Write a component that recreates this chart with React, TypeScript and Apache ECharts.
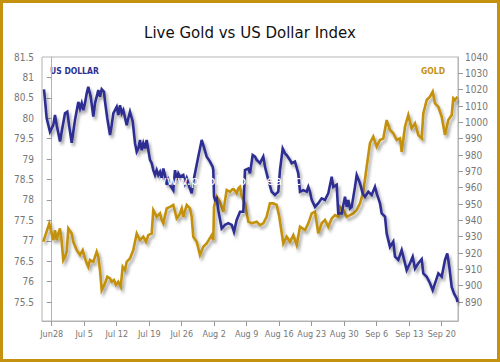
import React, { useEffect, useRef } from "react";
import * as echarts from "echarts";

// x values are days counted from Jun 28
const tickDays = [0, 7, 14, 21, 28, 35, 42, 49, 56, 63, 70, 77, 84];
const tickLabels = ["Jun28", "Jul 5", "Jul 12", "Jul 19", "Jul 26", "Aug 2", "Aug 9", "Aug 16", "Aug 23", "Aug 30", "Sep 6", "Sep 13", "Sep 20"];
const usdTicks = [75.5, 76, 76.5, 77, 77.5, 78, 78.5, 79, 79.5, 80, 80.5, 81, 81.5];
const goldTicks = [890, 900, 910, 920, 930, 940, 950, 960, 970, 980, 990, 1000, 1010, 1020, 1030, 1040];

const usdDays = [-1.66, -1.08, -0.37, 0.34, 0.71, 1.08, 1.79, 2.15, 2.86, 3.36, 3.79, 4.31, 5.02, 5.73, 6.1, 6.46, 6.8, 7.17, 7.54, 7.88, 8.4, 8.96, 9.33, 10.04, 10.4, 10.77, 11.26, 11.48, 11.97, 12.56, 12.92, 13.27, 13.63, 14.0, 14.34, 14.71, 15.08, 15.42, 16.15, 16.5, 16.86, 17.45, 17.94, 18.31, 18.65, 19.02, 19.38, 19.73, 20.09, 20.46, 20.81, 21.17, 21.54, 21.88, 22.25, 22.61, 22.96, 23.33, 23.69, 24.04, 24.4, 24.77, 25.11, 25.48, 26.19, 26.56, 26.92, 27.27, 27.63, 28.34, 28.71, 29.08, 29.64, 30.15, 30.5, 30.86, 31.57, 32.31, 32.65, 33.38, 34.09, 34.68, 34.8, 34.96, 35.17, 35.54, 35.88, 36.61, 37.33, 38.04, 38.77, 39.26, 39.84, 40.56, 41.27, 41.63, 42.34, 42.71, 43.29, 43.79, 44.15, 44.86, 45.57, 45.94, 46.65, 47.38, 48.09, 48.8, 49.17, 49.75, 50.25, 50.61, 51.32, 51.69, 52.4, 53.11, 53.48, 54.19, 54.92, 55.27, 55.63, 56.0, 56.71, 57.42, 58.15, 58.86, 59.57, 60.31, 60.65, 61.38, 61.72, 62.46, 62.8, 63.17, 63.54, 63.88, 64.25, 64.61, 65.32, 65.69, 66.4, 66.98, 67.48, 68.19, 68.92, 69.63, 70.0, 70.71, 71.07, 71.79, 72.15, 72.86, 73.57, 73.94, 74.65, 75.38, 75.73, 76.46, 77.17, 77.75, 78.25, 78.96, 79.69, 80.04, 80.77, 81.48, 82.06, 82.92, 83.27, 84.0, 84.71, 85.2, 85.64, 86.15, 86.65, 87.23, 87.4];
const usdValues = [80.71, 80.0, 79.67, 79.83, 80.08, 79.83, 79.43, 79.67, 80.12, 80.16, 79.79, 79.4, 79.96, 80.4, 80.24, 80.37, 80.2, 80.37, 80.61, 80.77, 80.53, 80.04, 80.37, 80.69, 80.53, 80.71, 80.65, 80.41, 80.0, 79.59, 79.83, 80.12, 80.2, 80.28, 80.08, 80.32, 80.12, 80.2, 79.83, 80.0, 80.16, 79.92, 79.39, 79.18, 79.26, 79.47, 79.22, 79.39, 79.26, 79.47, 79.22, 78.98, 78.9, 78.73, 78.61, 78.73, 78.61, 78.69, 78.53, 78.77, 78.61, 78.37, 78.49, 78.37, 78.24, 78.73, 78.49, 78.65, 78.57, 78.61, 78.41, 78.53, 78.32, 78.16, 78.45, 78.65, 79.06, 79.47, 79.34, 79.06, 78.94, 78.81, 78.73, 78.08, 78.0, 78.04, 77.75, 77.3, 77.39, 77.43, 77.39, 77.22, 77.51, 77.71, 77.71, 78.73, 78.77, 78.65, 79.1, 79.06, 78.98, 78.9, 79.06, 78.81, 78.49, 78.2, 78.12, 78.2, 78.73, 79.26, 79.14, 79.1, 78.98, 78.9, 78.94, 78.65, 78.2, 78.24, 78.2, 78.32, 78.2, 78.0, 77.83, 77.92, 78.04, 78.0, 78.16, 78.57, 78.32, 78.37, 77.67, 77.67, 77.87, 78.08, 77.83, 78.0, 77.79, 77.83, 78.32, 78.61, 78.41, 78.16, 78.08, 78.2, 78.12, 78.32, 78.16, 77.92, 77.67, 77.59, 77.18, 76.85, 76.98, 76.61, 76.53, 76.77, 76.61, 76.28, 76.45, 76.61, 76.32, 76.45, 76.55, 76.2, 76.12, 75.96, 75.79, 76.08, 76.2, 76.12, 76.53, 76.69, 76.36, 75.87, 75.71, 75.59, 75.5];

const goldDays = [-1.81, -1.23, -0.52, 0, 0.34, 0.71, 1.08, 1.42, 1.79, 2.15, 2.5, 2.86, 3.23, 3.58, 4.31, 4.65, 5.38, 6.1, 6.68, 7.17, 7.54, 7.88, 8.25, 8.96, 9.69, 10.04, 10.4, 10.77, 11.48, 11.97, 12.56, 12.92, 13.42, 13.85, 14.34, 14.86, 15.29, 15.79, 16.15, 16.86, 17.57, 18.31, 18.65, 19.02, 19.73, 20.31, 20.81, 21.54, 21.88, 22.25, 22.61, 23.33, 23.69, 24.04, 24.77, 25.48, 26.19, 26.92, 27.48, 28.0, 28.34, 29.08, 29.79, 30.15, 30.5, 31.23, 31.94, 32.65, 33.38, 34.46, 34.8, 34.96, 35.54, 36.25, 36.96, 37.69, 38.4, 39.11, 39.84, 40.19, 40.56, 40.92, 41.63, 42.34, 43.07, 44.15, 44.86, 45.57, 46.29, 47.0, 47.72, 48.46, 49.02, 49.88, 50.61, 51.32, 52.04, 52.77, 53.48, 54.56, 55.27, 56.0, 56.71, 57.42, 58.15, 58.86, 59.57, 60.31, 61.02, 61.72, 62.09, 62.8, 63.54, 64.25, 64.96, 65.69, 66.4, 67.11, 67.84, 68.55, 69.26, 69.99, 70.71, 71.42, 72.15, 72.86, 73.57, 74.31, 75.02, 75.38, 76.09, 76.8, 77.52, 78.25, 78.96, 79.69, 80.04, 80.77, 81.48, 82.06, 82.55, 83.27, 84.0, 84.71, 85.42, 86.15, 86.5, 86.86, 87.4];
const goldValues = [926.9, 932.0, 938.1, 932.0, 927.9, 934.0, 927.9, 932.0, 935.1, 926.9, 915.7, 917.7, 920.8, 935.1, 932.0, 926.9, 921.8, 918.8, 921.8, 916.7, 913.7, 911.6, 915.7, 914.6, 920.8, 917.7, 909.6, 897.3, 901.4, 905.5, 904.5, 902.4, 903.5, 900.4, 902.4, 899.3, 911.6, 909.6, 914.6, 916.7, 921.8, 932.0, 930.0, 927.9, 930.0, 926.9, 931.0, 932.0, 946.3, 944.3, 942.2, 944.3, 940.2, 938.2, 947.3, 948.3, 949.4, 941.2, 943.2, 947.3, 942.2, 949.4, 947.3, 942.2, 930.0, 926.9, 918.8, 923.8, 925.9, 931.0, 927.9, 948.3, 954.5, 951.4, 945.3, 958.6, 957.5, 959.6, 956.5, 959.6, 960.6, 954.5, 950.4, 939.2, 938.2, 939.2, 937.1, 938.2, 942.2, 950.4, 950.4, 949.4, 942.2, 925.9, 930.0, 926.9, 931.0, 924.9, 936.1, 934.0, 938.2, 944.3, 945.3, 932.0, 938.2, 940.2, 936.1, 941.2, 943.2, 942.2, 948.3, 946.3, 942.2, 943.2, 944.3, 946.3, 950.4, 957.5, 972.8, 987.2, 991.2, 985.1, 989.2, 990.2, 1001.4, 995.3, 993.3, 989.2, 990.2, 982.0, 997.3, 1004.5, 996.3, 999.4, 992.2, 990.2, 1005.5, 1013.7, 1015.7, 1018.8, 1011.6, 1009.6, 1003.4, 992.2, 1001.4, 1004.5, 1014.7, 1013.7, 1015.7];

const BLUE = "#2d2f92";
const GOLD = "#c4910f";
const FONT = "'DejaVu Sans Condensed', 'DejaVu Sans', sans-serif";

export default function App() {
  const ref = useRef<HTMLDivElement>(null);
  useEffect(() => {
    if (!ref.current) return;
    const chart = echarts.init(ref.current, null, { renderer: "svg" });
    const usdData = usdDays.map((d, i) => [d, usdValues[i]]);
    const goldData = goldDays.map((d, i) => [d, goldValues[i]]);
    const shadow = {
      shadowColor: "rgba(0,0,0,0.35)",
      shadowBlur: 3,
      shadowOffsetX: 2,
      shadowOffsetY: 3,
    };
    chart.setOption({
      animation: false,
      backgroundColor: "#ffffff",
      title: {
        text: "Live Gold vs US Dollar Index",
        left: "center",
        top: 20,
        textStyle: { fontFamily: "'DejaVu Sans', sans-serif", fontSize: 15, fontWeight: "normal", color: "#111" },
      },
      grid: { left: 42, right: 42, top: 57, bottom: 41, show: true, borderColor: "#b4b4b4", borderWidth: 1 },
      xAxis: {
        type: "value",
        min: -2.09,
        max: 87.51,
        splitLine: { show: false },
        axisLine: { show: true, lineStyle: { color: "#b4b4b4" } },
        axisTick: { show: true, length: 5, lineStyle: { color: "#999" }, customValues: tickDays },
        axisLabel: {
          customValues: tickDays,
          margin: 8,
          color: "#777",
          fontFamily: FONT,
          fontSize: 9,
          formatter: (v: number) => tickLabels[tickDays.indexOf(Math.round(v))] ?? "",
        },
      },
      yAxis: [
        {
          type: "value",
          min: 75.035,
          max: 81.5,
          position: "left",
          splitLine: { show: false },
          axisLine: { show: true, lineStyle: { color: "#b4b4b4" } },
          axisTick: { show: true, length: 5, lineStyle: { color: "#999" }, customValues: usdTicks.slice(0, -1) },
          axisLabel: { customValues: usdTicks, margin: 8, color: "#777", fontFamily: FONT, fontSize: 10, formatter: (v: number) => String(v) },
        },
        {
          type: "value",
          min: 878.4,
          max: 1040,
          position: "right",
          splitLine: { show: false },
          axisLine: { show: true, lineStyle: { color: "#b4b4b4" } },
          axisTick: { show: true, length: 5, lineStyle: { color: "#999" }, customValues: goldTicks.slice(0, -1) },
          axisLabel: { customValues: goldTicks, margin: 7, color: "#777", fontFamily: FONT, fontSize: 10, formatter: (v: number) => String(Math.round(v)) },
        },
      ],
      series: [
        {
          name: "GOLD",
          type: "line",
          yAxisIndex: 1,
          data: goldData,
          symbol: "none",
          clip: false,
          lineStyle: { color: GOLD, width: 2.6, join: "miter", cap: "butt", ...shadow },
        },
        {
          name: "US DOLLAR",
          type: "line",
          yAxisIndex: 0,
          data: usdData,
          symbol: "none",
          clip: false,
          lineStyle: { color: BLUE, width: 2.6, join: "miter", cap: "butt", ...shadow },
        },
      ],
      graphic: [
        {
          type: "rect",
          shape: { x: 1.5, y: 1.5, width: 497, height: 359 },
          style: { fill: "none", stroke: "#c4920f", lineWidth: 3 },
          silent: true,
        },
        {
          type: "text",
          left: 50,
          top: 66,
          style: { text: "US DOLLAR", fill: BLUE, font: "bold 8.5px 'DejaVu Sans Condensed', 'DejaVu Sans', sans-serif" },
        },
        {
          type: "text",
          right: 55,
          top: 66,
          style: { text: "GOLD", fill: GOLD, font: "bold 8.5px 'DejaVu Sans Condensed', 'DejaVu Sans', sans-serif" },
        },
        {
          type: "text",
          left: 156,
          top: 174,
          z: 100,
          style: { text: "www.publicgoldpeak.com", fill: "#ffffff", font: "13px 'DejaVu Sans', sans-serif" },
        },
      ],
    });
    return () => chart.dispose();
  }, []);
  return <div ref={ref} style={{ position: "fixed", left: 0, top: 0, width: 500, height: 362 }} />;
}
